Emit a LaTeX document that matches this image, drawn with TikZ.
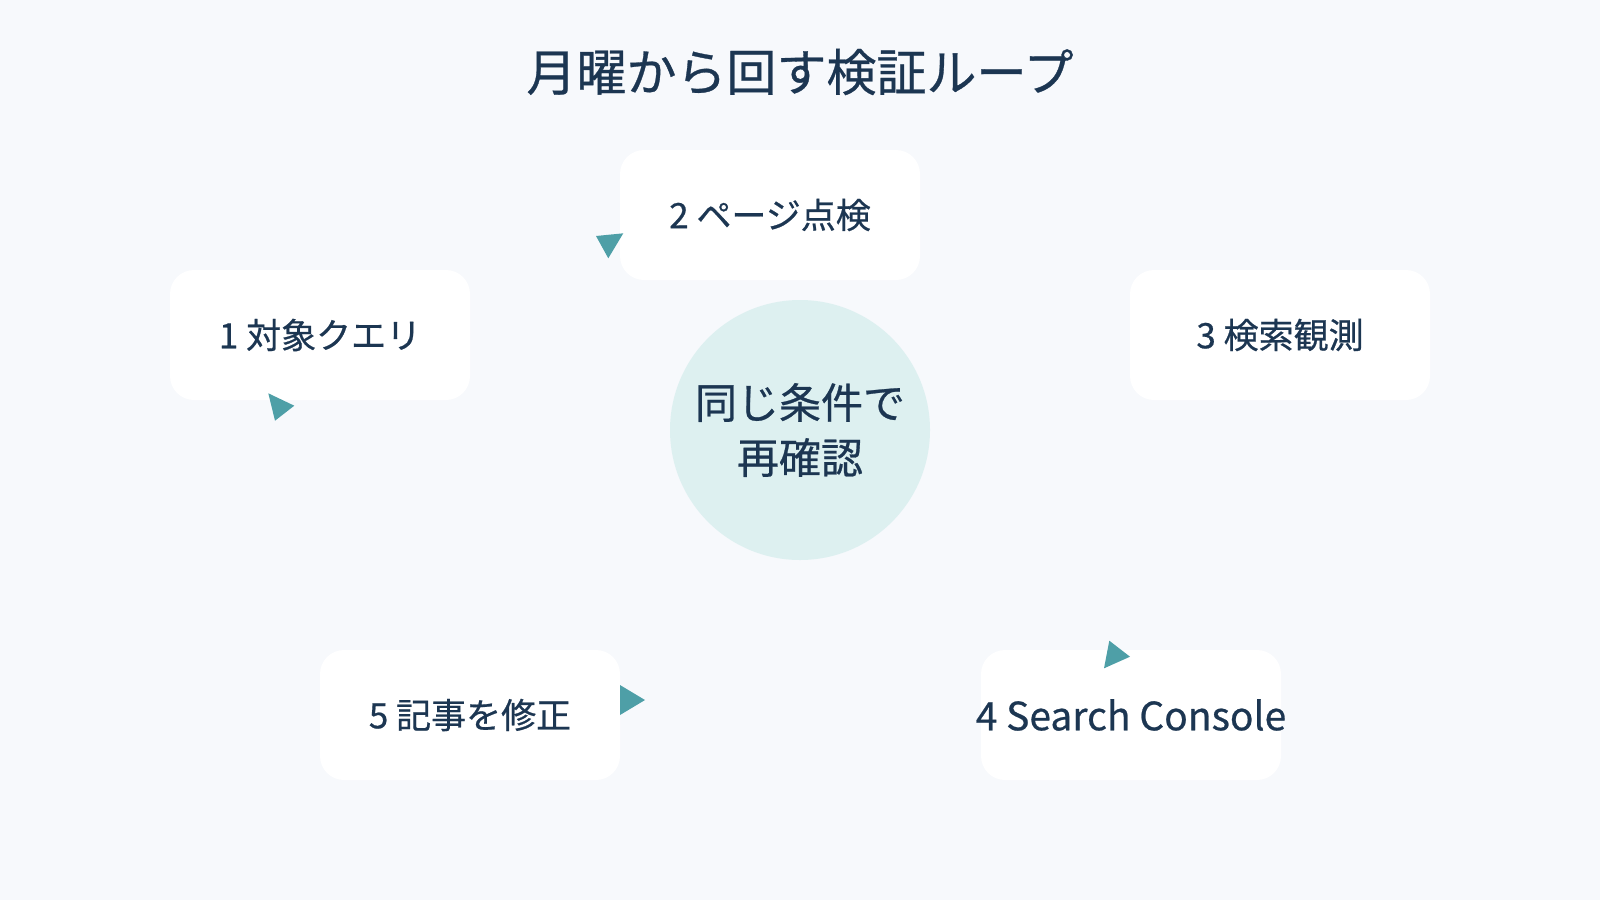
\documentclass[tikz,border=0pt]{standalone}
\usepackage{fontspec}
\setmainfont{Noto Sans CJK JP}[FakeBold=0.6]
\definecolor{bgc}{HTML}{F7F9FC}
\definecolor{ink}{HTML}{1C3652}
\definecolor{tealtip}{HTML}{4E9FA7}
\definecolor{hub}{HTML}{DDF0F0}
\tikzset{
  stepbox/.style={draw=none, fill=white, rounded corners=24pt, minimum width=300pt, minimum height=130pt, inner sep=0pt, text=ink, font=\fontsize{35}{40}\selectfont},
  hubnode/.style={circle, fill=hub, minimum size=260pt, inner sep=0pt, text=ink, align=center, font=\fontsize{42}{55}\selectfont},
  tipfill/.style={fill=tealtip},
}
\begin{document}
\begin{tikzpicture}[x=1pt,y=-1pt]
\fill[bgc] (0,0) rectangle (1600,900);
\useasboundingbox (0,0) rectangle (1600,900);
\node[text=ink, font=\fontsize{50}{60}\selectfont] (title) at (800,72) {月曜から回す検証ループ};
\node[hubnode] (hub) at (800,430) {同じ条件で\\再確認};
\node[stepbox] (s1) at (320,335) {1 対象クエリ};
\node[stepbox] (s2) at (770,215) {2 ページ点検};
\node[stepbox] (s3) at (1280,335) {3 検索観測};
\node[stepbox, font=\fontsize{39}{44}\selectfont] (s4) at (1131,715) {\makebox[0pt][c]{4 Search Console}};
\node[stepbox] (s5) at (470,715) {5 記事を修正};
% arrow tips (connector lines are not drawn in the picture)
\fill[tipfill] (268.3,393.3) -- (294.3,405.7) -- (275,420.7) -- cycle;
\fill[tipfill] (596,236) -- (623.3,233.3) -- (608.3,258.3) -- cycle;
\fill[tipfill] (1109.3,640.7) -- (1130,656.7) -- (1104,668.3) -- cycle;
\fill[tipfill] (620,685) -- (645,700) -- (620,715) -- cycle;
\end{tikzpicture}
\end{document}
